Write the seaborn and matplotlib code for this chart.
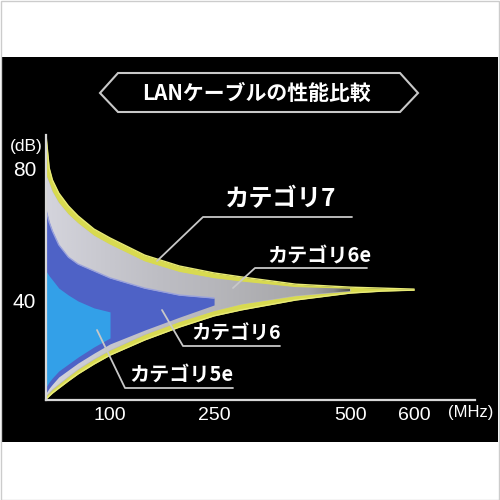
import numpy as np
import pandas as pd
import matplotlib
matplotlib.use("Agg")
import matplotlib.pyplot as plt
import seaborn as sns
from matplotlib.patches import Rectangle, Polygon
from matplotlib.lines import Line2D
from matplotlib.colors import LinearSegmentedColormap

# ---------------- data ----------------
title = "LANケーブルの性能比較"
freq = [0, 5, 10, 20, 35, 50, 75, 100, 150, 200, 250, 300, 400, 500, 550, 600]
cat7_upper = [90.0, 80.0, 76.4, 72.4, 68.5, 65.5, 61.5, 58.8, 53.6, 50.3, 48.2, 47.0, 44.8, 43.9, 43.6, 43.3]
cat7_lower = [10.0, 10.9, 11.8, 13.3, 15.5, 17.6, 20.6, 23.3, 27.9, 31.8, 35.2, 37.0, 40.0, 42.1, 42.7, 43.0]
freq_6e = [0, 5, 10, 20, 35, 50, 75, 100, 150, 200, 250, 300, 400, 500]
cat6e_upper = [77.9, 75.6, 72.9, 69.5, 66.0, 63.3, 59.5, 56.8, 51.7, 48.5, 46.6, 45.6, 43.9, 43.4]
cat6e_lower = [10.9, 11.9, 12.9, 14.5, 16.8, 19.0, 22.1, 24.8, 29.6, 33.5, 36.8, 38.8, 41.3, 42.7]
freq_6 = [0, 5, 10, 20, 35, 50, 75, 100, 150, 200, 250]
cat6_upper = [67.3, 63.6, 60.9, 56.7, 53.0, 50.9, 48.8, 46.7, 43.6, 41.5, 40.6]
cat6_lower = [11.8, 13.3, 14.5, 16.7, 18.8, 20.9, 23.9, 26.7, 30.9, 34.8, 38.5]
freq_5e = [0, 5, 10, 20, 35, 50, 75, 100]
cat5e_upper = [48.8, 47.3, 46.1, 43.6, 41.5, 39.7, 37.6, 36.4]
cat5e_lower = [13.6, 15.2, 16.4, 18.5, 20.6, 22.7, 25.8, 28.5]

x_ticks = [100, 250, 500, 600]
x_ticklabels = ["100", "250", "500", "600"]
y_ticks = [40, 80]
y_ticklabels = ["40", "80"]
labels = ["カテゴリ7", "カテゴリ6e", "カテゴリ6", "カテゴリ5e"]

# ---------------- style ----------------
sns.set_theme(style="white")
plt.rcParams['font.family'] = ['Noto Sans CJK JP', 'DejaVu Sans']

W = 500.0
def fx(px):
    return px / W
def fy(py):
    return 1 - py / W

fig = plt.figure(figsize=(5, 5), dpi=100)
fig.patch.set_facecolor("white")
# black panel and thin image border
fig.add_artist(Rectangle((fx(2), fy(442)), fx(496), 385 / W, transform=fig.transFigure,
                         facecolor="black", edgecolor="none", zorder=0))
fig.add_artist(Rectangle((0.001, 0.001), 0.997, 0.997, transform=fig.transFigure,
                         facecolor="none", edgecolor="#cccccc", lw=1, zorder=0))

ax = fig.add_axes([fx(46), fy(400), 429 / W, 265 / W])
ax.set_facecolor("none")

# piecewise axis scale (diagram is not linear in MHz)
POS_F = np.array([-1000, 0, 100, 250, 500, 600, 10000])
POS_P = np.array([-640, 0, 64, 168, 304, 368, 368 + 9400 * 0.64])
fwd = lambda x: np.interp(x, POS_F, POS_P)
inv = lambda p: np.interp(p, POS_P, POS_F)
ax.set_xscale("function", functions=(fwd, inv))
ax.set_xlim(0, 695)
ax.set_ylim(9.7, 90)

YEL = "#d8da50"
BLUE = "#4e62c6"
LBLUE = "#33a0e8"

# category 7 (yellow envelope)
ax.fill_between(freq, cat7_lower, cat7_upper, color=YEL, lw=0, zorder=1)
df7 = pd.DataFrame({"f": freq + freq, "db": cat7_upper + cat7_lower,
                    "edge": ["u"] * len(freq) + ["l"] * len(freq)})
sns.lineplot(data=df7, x="f", y="db", units="edge", estimator=None, color="#e8ea78",
             lw=1.0, ax=ax, zorder=1.5, legend=False)

# category 6e (gray with gradient)
poly6e = ax.fill_between(freq_6e, cat6e_lower, cat6e_upper, color="#b8b8c0", lw=0, zorder=2)
cmap = LinearSegmentedColormap.from_list(
    "g", [(0, "#d4d4dc"), (0.35, "#bdbdc3"), (0.85, "#a6a6a8"), (0.94, "#8a8a8a"), (1, "#505048")])
grad = np.linspace(0, 1, 256).reshape(1, -1)
im = ax.imshow(grad, cmap=cmap, extent=[0, 500, 9.7, 90], aspect="auto", zorder=2.1,
               interpolation="bilinear")
im.set_clip_path(poly6e.get_paths()[0], poly6e.get_transform())

# category 6 (blue)
ax.fill_between(freq_6, cat6_lower, cat6_upper, color=BLUE, lw=0, zorder=3)
df6 = pd.DataFrame({"f": freq_6, "db": cat6_upper})
sns.lineplot(data=df6, x="f", y="db", color="#9aa2dc", lw=1.0, ax=ax, zorder=3.2)

# category 5e (light blue)
ax.fill_between(freq_5e, cat5e_lower, cat5e_upper, color=LBLUE, lw=0, zorder=4)

ax.set_xlabel("")
ax.set_ylabel("")
for s in ["top", "right"]:
    ax.spines[s].set_visible(False)
for s in ["left", "bottom"]:
    ax.spines[s].set_color("#d8d8d8")
    ax.spines[s].set_linewidth(1.6)
    ax.spines[s].set_zorder(6)

ax.set_xticks(x_ticks)
ax.set_xticklabels(x_ticklabels, family="Liberation Sans", fontsize=14, color="white")
ax.set_yticks(y_ticks)
ax.set_yticklabels(y_ticklabels, family="Liberation Sans", fontsize=15, color="white")
ax.xaxis.set_minor_locator(matplotlib.ticker.NullLocator())
ax.tick_params(axis="x", length=0, pad=5)
ax.tick_params(axis="y", length=0, pad=7)
ax.grid(False)

fig.text(fx(471), fy(413), "(MHz)", family="Liberation Sans", fontsize=12, color="white",
         ha="center", va="center")
fig.text(fx(43), fy(146), "(dB)", family="Liberation Sans", fontsize=12.5, color="white",
         ha="right", va="center")

# title in a hexagonal frame
hexagon = Polygon([(fx(100), fy(93)), (fx(118), fy(73)), (fx(400), fy(73)), (fx(418), fy(93)),
                   (fx(400), fy(112)), (fx(118), fy(112))], closed=True, transform=fig.transFigure,
                  facecolor="none", edgecolor="#c8c8c8", lw=1.5)
fig.add_artist(hexagon)
fig.text(fx(256), fy(93), title, fontsize=15, fontweight="bold", color="white",
         ha="center", va="center")

# callouts
LC = "#c8c8c8"
callouts = [
    ([(157, 261), (203, 217), (352, 217)], (225, 199), 17.5),
    ([(233, 288), (255, 268), (367, 268)], (267, 256), 14.5),
    ([(162, 310), (183, 346), (280, 346)], (191, 334), 14),
    ([(97, 330), (125, 388), (233, 388)], (129, 375), 14.5),
]
for (pts, (tx, ty), fs), lab in zip(callouts, labels):
    fig.add_artist(Line2D([fx(p[0]) for p in pts], [fy(p[1]) for p in pts],
                          transform=fig.transFigure, color=LC, lw=1.3, zorder=8))
    fig.text(fx(tx), fy(ty), lab, fontsize=fs, fontweight="bold", color="white",
             ha="left", va="center", zorder=9)

fig.savefig("out.png", dpi=100, facecolor=fig.get_facecolor())
